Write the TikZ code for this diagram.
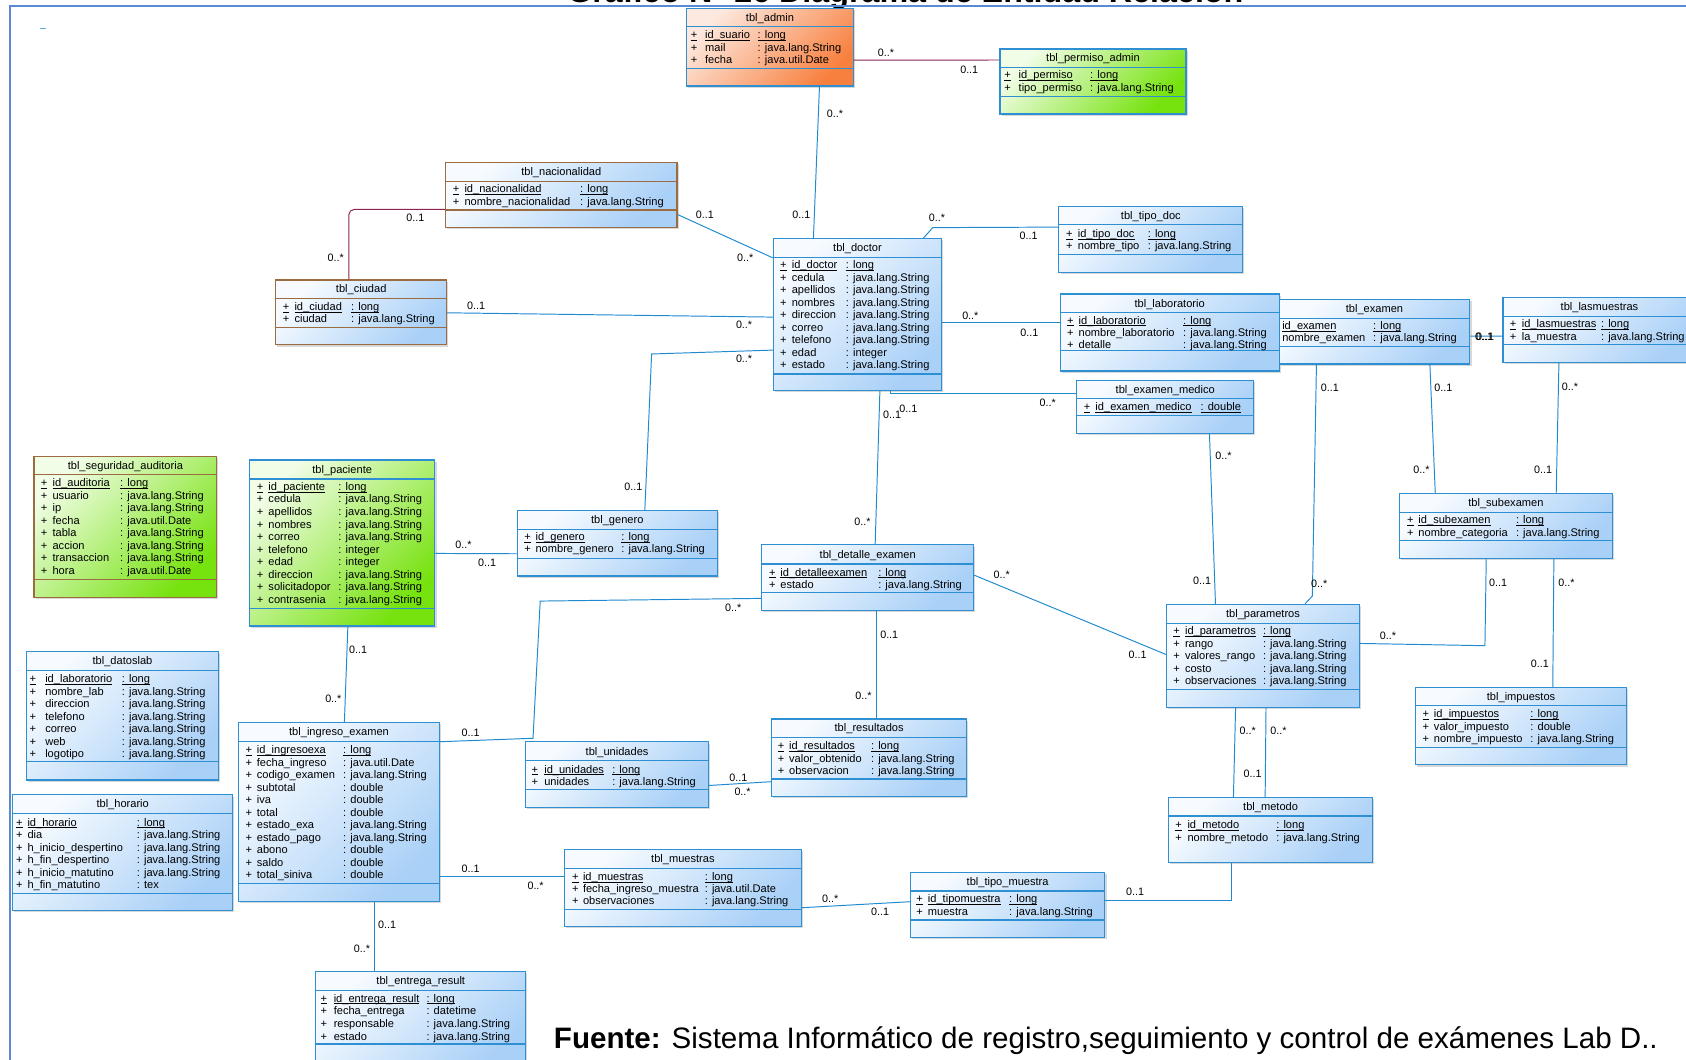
\documentclass[tikz,border=0pt]{standalone}
\usepackage{fontspec}
\setmainfont{Liberation Sans}
\usepackage{array}
\usetikzlibrary{positioning,fit,shadows}

\definecolor{tblblue}{HTML}{2E8FD3}
\definecolor{tblbrown}{HTML}{9C6B40}
\definecolor{linkblue}{HTML}{1F8AD0}
\definecolor{linkred}{HTML}{8E2352}
\definecolor{framec}{HTML}{5A8AD2}
\definecolor{bluelo}{HTML}{F7FBFF}
\definecolor{bluehi}{HTML}{A9D0F7}
\definecolor{greenlo}{HTML}{F1FDE6}
\definecolor{greenhi}{HTML}{76E20E}
\definecolor{orangelo}{HTML}{FDE9DF}
\definecolor{orangehi}{HTML}{F8803F}

\newcommand{\ul}[1]{\underline{\smash{#1}}}

\begin{document}
\begin{tikzpicture}[x=1pt,y=-1pt,
  tbl/.style={draw=tblblue,line width=1pt,inner sep=0pt,
    drop shadow={shadow xshift=1.5pt,shadow yshift=-1.5pt,fill=gray!60,opacity=.5}},
  bluebox/.style={tbl,top color=bluelo,bottom color=bluehi,shading angle=45},
  greenbox/.style={tbl,top color=greenlo,bottom color=greenhi,shading angle=45},
  orangebox/.style={tbl,top color=orangelo,bottom color=orangehi,shading angle=45},
  sep/.style={draw=tblblue,line width=1pt},
  ttl/.style={anchor=base,inner sep=0pt,font=\fontsize{10.3}{12}\selectfont},
  attrs/.style={anchor=base west,inner sep=0pt,font=\fontsize{10.3}{11.65}\selectfont},
  mult/.style={inner sep=0pt,font=\fontsize{10}{12}\selectfont},
  link/.style={draw=linkblue,line width=0.9pt},
  linkr/.style={draw=linkred,line width=0.9pt}]
  \useasboundingbox[fill=white] (0,0) rectangle (1568,985);

  \node[anchor=base,inner sep=0pt,font=\bfseries\fontsize{30}{36}\selectfont] (title) at (842,2) {Gráfico N° 26 Diagrama de Entidad Relación};
  \draw[framec,line width=1.6pt] (9.3,990) -- (9.3,5.3) -- (1575,5.3);
  \draw[linkblue!70,line width=1.2pt] (37.5,26.7) -- (43.2,26.7);

  % tablas
  \node[orangebox,fit={(638.4,7.8) (793.8,80)}] (admin) {};
  \draw[sep] (638.4,24.8) -- (793.8,24.8) (638.4,63.5) -- (793.8,63.5);
  \node[ttl] (admin-t) at (716.1,19.8) {tbl\_admin};
  \node[attrs] (admin-a) at (642.3,36) {\begin{tabular}[t]{@{}w{l}{13.3pt}@{}w{l}{48.9pt}@{}l@{}}
    \ul{+} & \ul{id\_suario} & \ul{: long}\\
    + & mail & : java.lang.String\\
    + & fecha & : java.util.Date
  \end{tabular}};

  \node[greenbox,fit={(930,45.6) (1103,106)}] (permiso) {};
  \draw[sep] (930,62.6) -- (1103,62.6) (930,90) -- (1103,90);
  \node[ttl] (permiso-t) at (1016.5,57.6) {tbl\_permiso\_admin};
  \node[attrs] (permiso-a) at (933.9,73.3) {\begin{tabular}[t]{@{}w{l}{13.3pt}@{}w{l}{66.5pt}@{}l@{}}
    \ul{+} & \ul{id\_permiso} & \ul{: long}\\
    + & tipo\_permiso & : java.lang.String
  \end{tabular}};

  \node[bluebox,draw=tblbrown,fit={(414.5,151) (629.6,211.4)}] (nac) {};
  \draw[sep,draw=tblbrown] (414.5,169) -- (629.6,169) (414.5,195.3) -- (629.6,195.3);
  \node[ttl] (nac-t) at (522,163.5) {tbl\_nacionalidad};
  \node[attrs] (nac-a) at (421,179.3) {\begin{tabular}[t]{@{}w{l}{10.8pt}@{}w{l}{107.6pt}@{}l@{}}
    \ul{+} & \ul{id\_nacionalidad} & \ul{: long}\\
    + & nombre\_nacionalidad & : java.lang.String
  \end{tabular}};

  \node[bluebox,draw=tblbrown,fit={(256.4,260.4) (415.4,320.8)}] (ciudad) {};
  \draw[sep,draw=tblbrown] (256.4,277.4) -- (415.4,277.4) (256.4,304.7) -- (415.4,304.7);
  \node[ttl] (ciudad-t) at (335.9,272.4) {tbl\_ciudad};
  \node[attrs] (ciudad-a) at (262.9,288.7) {\begin{tabular}[t]{@{}w{l}{10.8pt}@{}w{l}{52.7pt}@{}l@{}}
    \ul{+} & \ul{id\_ciudad} & \ul{: long}\\
    + & ciudad & : java.lang.String
  \end{tabular}};

  \node[bluebox,fit={(719.2,222) (875.7,363.3)}] (doctor) {};
  \draw[sep] (719.2,239.3) -- (875.7,239.3) (719.2,347.8) -- (875.7,347.8);
  \node[ttl] (doctor-t) at (797.5,234.2) {tbl\_doctor};
  \node[attrs] (doctor-a) at (725.4,249.9) {\begin{tabular}[t]{@{}w{l}{10.8pt}@{}w{l}{50.3pt}@{}l@{}}
    \ul{+} & \ul{id\_doctor} & \ul{: long}\\
    + & cedula & : java.lang.String\\
    + & apellidos & : java.lang.String\\
    + & nombres & : java.lang.String\\
    + & direccion & : java.lang.String\\
    + & correo & : java.lang.String\\
    + & telefono & : java.lang.String\\
    + & edad & : integer\\
    + & estado & : java.lang.String
  \end{tabular}};

  \node[bluebox,fit={(984.8,192.2) (1155.7,253)}] (tipodoc) {};
  \draw[sep] (984.8,209.2) -- (1155.7,209.2) (984.8,236.5) -- (1155.7,236.5);
  \node[ttl] (tipodoc-t) at (1070.3,204.2) {tbl\_tipo\_doc};
  \node[attrs] (tipodoc-a) at (991.3,220.8) {\begin{tabular}[t]{@{}w{l}{10.9pt}@{}w{l}{65.1pt}@{}l@{}}
    \ul{+} & \ul{id\_tipo\_doc} & \ul{: long}\\
    + & nombre\_tipo & : java.lang.String
  \end{tabular}};

  \node[bluebox,fit={(985.9,273.4) (1189.6,345)}] (lab) {};
  \draw[sep] (985.9,290.8) -- (1189.6,290.8) (985.9,326.1) -- (1189.6,326.1);
  \node[ttl] (lab-t) at (1087.8,285.6) {tbl\_laboratorio};
  \node[attrs,font=\fontsize{10.3}{11.45}\selectfont] (lab-a) at (992.3,301.4) {\begin{tabular}[t]{@{}w{l}{10.6pt}@{}w{l}{97.3pt}@{}l@{}}
    \ul{+} & \ul{id\_laboratorio} & \ul{: long}\\
    + & nombre\_laboratorio & : java.lang.String\\
    + & detalle & : java.lang.String
  \end{tabular}};

  \node[bluebox,fit={(1189.6,278.4) (1367,338.5)}] (examen) {};
  \draw[sep] (1189.6,296) -- (1367,296) (1189.6,322.4) -- (1367,322.4);
  \node[ttl] (examen-t) at (1278.3,290.7) {tbl\_examen};
  \node[attrs] (examen-a) at (1192.3,306.4) {\begin{tabular}[t]{@{}w{l}{84.6pt}@{}l@{}}
    \ul{id\_examen} & \ul{: long}\\
    nombre\_examen & : java.lang.String
  \end{tabular}};

  \node[bluebox,fit={(1397.8,276.5) (1577,337.3)}] (lasm) {};
  \draw[sep] (1397.8,294.5) -- (1577,294.5) (1397.8,320.8) -- (1577,320.8);
  \node[ttl] (lasm-t) at (1487.5,289) {tbl\_lasmuestras};
  \node[attrs] (lasm-a) at (1403.9,304.8) {\begin{tabular}[t]{@{}w{l}{11.3pt}@{}w{l}{73.6pt}@{}l@{}}
    \ul{+} & \ul{id\_lasmuestras} & \ul{: long}\\
    + & la\_muestra & : java.lang.String
  \end{tabular}};

  \node[bluebox,fit={(1001.4,354) (1166,403)}] (exmed) {};
  \draw[sep] (1001.4,371) -- (1166,371) (1001.4,386.6) -- (1166,386.6);
  \node[ttl] (exmed-t) at (1083.7,366) {tbl\_examen\_medico};
  \node[attrs] (exmed-a) at (1007.7,381.7) {\begin{tabular}[t]{@{}w{l}{10.9pt}@{}w{l}{97.8pt}@{}l@{}}
    \ul{+} & \ul{id\_examen\_medico} & \ul{: double}
  \end{tabular}};

  \node[greenbox,draw=tblbrown,fit={(31.6,424.7) (201.5,555.5)}] (seg) {};
  \draw[sep,draw=tblbrown] (31.6,441.7) -- (201.5,441.7) (31.6,538.7) -- (201.5,538.7);
  \node[ttl] (seg-t) at (116.6,436.7) {tbl\_seguridad\_auditoria};
  \node[attrs] (seg-a) at (37.8,452.7) {\begin{tabular}[t]{@{}w{l}{10.9pt}@{}w{l}{62.9pt}@{}l@{}}
    \ul{+} & \ul{id\_auditoria} & \ul{: long}\\
    + & usuario & : java.lang.String\\
    + & ip & : java.lang.String\\
    + & fecha & : java.util.Date\\
    + & tabla & : java.lang.String\\
    + & accion & : java.lang.String\\
    + & transaccion & : java.lang.String\\
    + & hora & : java.util.Date
  \end{tabular}};

  \node[greenbox,fit={(231.9,427.8) (404.5,582.2)}] (paciente) {};
  \draw[sep] (231.9,445.5) -- (404.5,445.5) (231.9,565.7) -- (404.5,565.7);
  \node[ttl] (paciente-t) at (318.2,440.2) {tbl\_paciente};
  \node[attrs] (paciente-a) at (238.7,456.1) {\begin{tabular}[t]{@{}w{l}{10.8pt}@{}w{l}{65.1pt}@{}l@{}}
    \ul{+} & \ul{id\_paciente} & \ul{: long}\\
    + & cedula & : java.lang.String\\
    + & apellidos & : java.lang.String\\
    + & nombres & : java.lang.String\\
    + & correo & : java.lang.String\\
    + & telefono & : integer\\
    + & edad & : integer\\
    + & direccion & : java.lang.String\\
    + & solicitadopor & : java.lang.String\\
    + & contrasenia & : java.lang.String
  \end{tabular}};

  \node[bluebox,fit={(481.2,475) (667,535.7)}] (genero) {};
  \draw[sep] (481.2,492.3) -- (667,492.3) (481.2,519.2) -- (667,519.2);
  \node[ttl] (genero-t) at (574.1,487.2) {tbl\_genero};
  \node[attrs] (genero-a) at (487.5,502.6) {\begin{tabular}[t]{@{}w{l}{10.4pt}@{}w{l}{79.8pt}@{}l@{}}
    \ul{+} & \ul{id\_genero} & \ul{: long}\\
    + & nombre\_genero & : java.lang.String
  \end{tabular}};

  \node[bluebox,fit={(708.4,506.8) (905.5,567.9)}] (detalle) {};
  \draw[sep] (708.4,524.5) -- (905.5,524.5) (708.4,551.2) -- (905.5,551.2);
  \node[ttl] (detalle-t) at (807,519.2) {tbl\_detalle\_examen};
  \node[attrs] (detalle-a) at (715.2,535.8) {\begin{tabular}[t]{@{}w{l}{10.4pt}@{}w{l}{91pt}@{}l@{}}
    \ul{+} & \ul{id\_detalleexamen} & \ul{: long}\\
    + & estado & : java.lang.String
  \end{tabular}};

  \node[bluebox,fit={(1301.6,458.8) (1499.3,519.6)}] (subex) {};
  \draw[sep] (1301.6,476.5) -- (1499.3,476.5) (1301.6,502.8) -- (1499.3,502.8);
  \node[ttl] (subex-t) at (1400.5,471.2) {tbl\_subexamen};
  \node[attrs] (subex-a) at (1308.5,487.1) {\begin{tabular}[t]{@{}w{l}{10.5pt}@{}w{l}{90.7pt}@{}l@{}}
    \ul{+} & \ul{id\_subexamen} & \ul{: long}\\
    + & nombre\_categoria & : java.lang.String
  \end{tabular}};

  \node[bluebox,fit={(1084.7,562) (1264.4,657.8)}] (param) {};
  \draw[sep] (1084.7,579.7) -- (1264.4,579.7) (1084.7,641) -- (1264.4,641);
  \node[ttl] (param-t) at (1174.6,574.4) {tbl\_parametros};
  \node[attrs] (param-a) at (1091,590.3) {\begin{tabular}[t]{@{}w{l}{10.9pt}@{}w{l}{72.5pt}@{}l@{}}
    \ul{+} & \ul{id\_parametros} & \ul{: long}\\
    + & rango & : java.lang.String\\
    + & valores\_rango & : java.lang.String\\
    + & costo & : java.lang.String\\
    + & observaciones & : java.lang.String
  \end{tabular}};

  \node[bluebox,fit={(1316.2,639.2) (1513,711.4)}] (impuestos) {};
  \draw[sep] (1316.2,656.3) -- (1513,656.3) (1316.2,695) -- (1513,695);
  \node[ttl] (impuestos-t) at (1414.6,651.3) {tbl\_impuestos};
  \node[attrs] (impuestos-a) at (1322.9,667.5) {\begin{tabular}[t]{@{}w{l}{10.5pt}@{}w{l}{89.7pt}@{}l@{}}
    \ul{+} & \ul{id\_impuestos} & \ul{: long}\\
    + & valor\_impuesto & : double\\
    + & nombre\_impuesto & : java.lang.String
  \end{tabular}};

  \node[bluebox,fit={(24.8,606) (203,725.4)}] (datoslab) {};
  \draw[sep] (24.8,623.7) -- (203,623.7) (24.8,708.3) -- (203,708.3);
  \node[ttl] (datoslab-t) at (113.9,618.4) {tbl\_datoslab};
  \node[attrs] (datoslab-a) at (27.3,635) {\begin{tabular}[t]{@{}w{l}{14.6pt}@{}w{l}{71.3pt}@{}l@{}}
    \ul{+} & \ul{id\_laboratorio} & \ul{: long}\\
    + & nombre\_lab & : java.lang.String\\
    + & direccion & : java.lang.String\\
    + & telefono & : java.lang.String\\
    + & correo & : java.lang.String\\
    + & web & : java.lang.String\\
    + & logotipo & : java.lang.String
  \end{tabular}};

  \node[bluebox,fit={(11.8,739.3) (216.4,846.9)}] (horario) {};
  \draw[sep] (11.8,756.4) -- (216.4,756.4) (11.8,830.8) -- (216.4,830.8);
  \node[ttl] (horario-t) at (114.1,751.4) {tbl\_horario};
  \node[attrs] (horario-a) at (14.9,768.3) {\begin{tabular}[t]{@{}w{l}{10.5pt}@{}w{l}{101.7pt}@{}l@{}}
    \ul{+} & \ul{id\_horario} & \ul{: long}\\
    + & dia & : java.lang.String\\
    + & h\_inicio\_despertino & : java.lang.String\\
    + & h\_fin\_despertino & : java.lang.String\\
    + & h\_inicio\_matutino & : java.lang.String\\
    + & h\_fin\_matutino & : tex
  \end{tabular}};

  \node[bluebox,fit={(222,672) (408.6,838)}] (ingreso) {};
  \draw[sep] (222,689.7) -- (408.6,689.7) (222,821.5) -- (408.6,821.5);
  \node[ttl] (ingreso-t) at (315.3,684.4) {tbl\_ingreso\_examen};
  \node[attrs,font=\fontsize{10.3}{11.6}\selectfont] (ingreso-a) at (228.3,701) {\begin{tabular}[t]{@{}w{l}{10.4pt}@{}w{l}{80.3pt}@{}l@{}}
    \ul{+} & \ul{id\_ingresoexa} & \ul{: long}\\
    + & fecha\_ingreso & : java.util.Date\\
    + & codigo\_examen & : java.lang.String\\
    + & subtotal & : double\\
    + & iva & : double\\
    + & total & : double\\
    + & estado\_exa & : java.lang.String\\
    + & estado\_pago & : java.lang.String\\
    + & abono & : double\\
    + & saldo & : double\\
    + & total\_siniva & : double
  \end{tabular}};

  \node[bluebox,fit={(488.9,690) (658.8,750.8)}] (unidades) {};
  \draw[sep] (488.9,707.4) -- (658.8,707.4) (488.9,734) -- (658.8,734);
  \node[ttl] (unidades-t) at (573.9,702.2) {tbl\_unidades};
  \node[attrs] (unidades-a) at (494.3,719) {\begin{tabular}[t]{@{}w{l}{11.7pt}@{}w{l}{63.2pt}@{}l@{}}
    \ul{+} & \ul{id\_unidades} & \ul{: long}\\
    + & unidades & : java.lang.String
  \end{tabular}};

  \node[bluebox,fit={(717.4,668.7) (899.1,740.9)}] (result) {};
  \draw[sep] (717.4,685.7) -- (899.1,685.7) (717.4,724.5) -- (899.1,724.5);
  \node[ttl] (result-t) at (808.3,680.7) {tbl\_resultados};
  \node[attrs] (result-a) at (723.3,697.3) {\begin{tabular}[t]{@{}w{l}{10.4pt}@{}w{l}{76.2pt}@{}l@{}}
    \ul{+} & \ul{id\_resultados} & \ul{: long}\\
    + & valor\_obtenido & : java.lang.String\\
    + & observacion & : java.lang.String
  \end{tabular}};

  \node[bluebox,fit={(1086.8,741.8) (1276.6,802.3)}] (metodo) {};
  \draw[sep] (1086.8,758.9) -- (1276.6,758.9);
  \node[ttl] (metodo-t) at (1181.7,753.9) {tbl\_metodo};
  \node[attrs] (metodo-a) at (1092.9,770.7) {\begin{tabular}[t]{@{}w{l}{11.3pt}@{}w{l}{82.6pt}@{}l@{}}
    \ul{+} & \ul{id\_metodo} & \ul{: long}\\
    + & nombre\_metodo & : java.lang.String
  \end{tabular}};

  \node[bluebox,fit={(846.6,811.2) (1027.6,871.7)}] (tmuestra) {};
  \draw[sep] (846.6,828.6) -- (1027.6,828.6) (846.6,855.6) -- (1027.6,855.6);
  \node[ttl] (tmuestra-t) at (937.1,823.4) {tbl\_tipo\_muestra};
  \node[attrs] (tmuestra-a) at (852.1,839.5) {\begin{tabular}[t]{@{}w{l}{10.7pt}@{}w{l}{75.6pt}@{}l@{}}
    \ul{+} & \ul{id\_tipomuestra} & \ul{: long}\\
    + & muestra & : java.lang.String
  \end{tabular}};

  \node[bluebox,fit={(525.2,789.9) (745,861.8)}] (muestras) {};
  \draw[sep] (525.2,807.5) -- (745,807.5) (525.2,845.7) -- (745,845.7);
  \node[ttl] (muestras-t) at (635.1,802.2) {tbl\_muestras};
  \node[attrs,font=\fontsize{10.3}{11.2}\selectfont] (muestras-a) at (531.8,818.8) {\begin{tabular}[t]{@{}w{l}{10.2pt}@{}w{l}{113.3pt}@{}l@{}}
    \ul{+} & \ul{id\_muestras} & \ul{: long}\\
    + & fecha\_ingreso\_muestra & : java.util.Date\\
    + & observaciones & : java.lang.String
  \end{tabular}};

  \node[bluebox,fit={(293.8,903.6) (488.7,995)}] (entrega) {};
  \draw[sep] (293.8,921.3) -- (488.7,921.3) (293.8,970.9) -- (488.7,970.9);
  \node[ttl] (entrega-t) at (391.3,916) {tbl\_entrega\_result};
  \node[attrs,font=\fontsize{10.3}{11.9}\selectfont] (entrega-a) at (297.9,931.9) {\begin{tabular}[t]{@{}w{l}{12.3pt}@{}w{l}{86.3pt}@{}l@{}}
    \ul{+} & \ul{id\_entrega\_result} & \ul{: long}\\
    + & fecha\_entrega & : datetime\\
    + & responsable & : java.lang.String\\
    + & estado & : java.lang.String
  \end{tabular}};

  % relaciones
  \draw[linkr] ([yshift=-48.7pt]admin.north east) -- ([yshift=-10.7pt]permiso.north west);
  \node[mult] (m1) at (824,49) {0..*};
  \node[mult] (m2) at (901.4,65.1) {0..1};

  \draw[link] ([xshift=124.2pt]admin.south west) -- ([xshift=37.8pt]doctor.north west);
  \node[mult] (m3) at (776.6,105.4) {0..*};
  \node[mult] (m4) at (745.2,200) {0..1};

  \draw[linkr,rounded corners=5pt] ([yshift=-44.3pt]nac.north west) -| ([xshift=68.5pt]ciudad.north west);
  \node[mult] (m5) at (386.3,202.4) {0..1};
  \node[mult] (m6) at (312.3,239.3) {0..*};

  \draw[link] ([yshift=-49pt]nac.north east) -- ([yshift=-18.3pt]doctor.north west);
  \node[mult] (m7) at (655.6,199.3) {0..1};
  \node[mult] (m8) at (693,240) {0..*};

  \draw[link] ([yshift=-31pt]ciudad.north east) -- ([yshift=-73.4pt]doctor.north west);
  \node[mult] (m9) at (442.8,284) {0..1};
  \node[mult] (m10) at (692,302) {0..*};

  \draw[link] ([yshift=-104.1pt]doctor.north west) -- (606,329.2) -- ([xshift=119pt]genero.north west);
  \node[mult] (m11) at (589,452.6) {0..1};
  \node[mult] (m12) at (692,334) {0..*};

  \draw[link] ([xshift=140.1pt]doctor.north west) -- (867.4,211.7) -- ([yshift=-19.5pt]tipodoc.north west);
  \node[mult] (m13) at (871.4,202.1) {0..*};
  \node[mult] (m14) at (956.6,219.2) {0..1};

  \draw[link] ([yshift=-78pt]doctor.north east) -- ([yshift=-26.6pt]lab.north west);
  \node[mult] (m15) at (902.4,293.9) {0..*};
  \node[mult] (m16) at (957.3,309.1) {0..1};

  \draw[link] ([yshift=-34.7pt]examen.north east) -- ([yshift=-36.6pt]lasm.north west);
  \node[mult] (m17) at (1380.3,313.1) {0..1};
  \node[mult] (m18) at (1381.1,313.4) {0..1};

  \draw[link] ([xshift=109.8pt]doctor.south west) |- ([yshift=-12.7pt]exmed.north west);
  \node[mult] (m19) at (974.4,374.5) {0..*};

  \draw[link] ([xshift=99.6pt]doctor.south west) -- ([xshift=106pt]detalle.north west);
  \node[mult] (m20) at (829.7,385.3) {0..1};
  \node[mult] (m21) at (844.8,380.4) {0..1};
  \node[mult] (m22) at (802,485.1) {0..*};

  \draw[link] ([yshift=-50.2pt]detalle.north west) -- (502.4,559) -- (495.7,686.6) -- ([yshift=-18.3pt]ingreso.north east);
  \node[mult] (m23) at (681.8,565.1) {0..*};
  \node[mult] (m24) at (437.7,681.4) {0..1};

  \draw[link] ([yshift=-28.6pt]detalle.north east) -- ([yshift=-47.1pt]param.north west);
  \node[mult] (m25) at (931.6,534.1) {0..*};
  \node[mult] (m26) at (1058,609) {0..1};

  \draw[link] ([xshift=107.6pt]detalle.south west) -- ([xshift=98.6pt]result.north west);
  \node[mult] (m27) at (827,590) {0..1};
  \node[mult] (m28) at (803,647) {0..*};

  \draw[link] ([xshift=123.9pt]exmed.south west) -- ([xshift=46.2pt]param.north west);
  \node[mult] (m29) at (1137.8,423.8) {0..*};
  \node[mult] (m30) at (1118,540) {0..1};

  \draw[link] ([xshift=35.2pt]examen.south west) -- (1220.5,554.3) -- ([xshift=129.5pt]param.north west);
  \node[mult] (m31) at (1236.8,361.1) {0..1};
  \node[mult] (m32) at (1226.9,542.5) {0..*};

  \draw[link] ([xshift=140.7pt]examen.south west) -- ([xshift=33.7pt]subex.north west);
  \node[mult] (m33) at (1342.4,361.1) {0..1};
  \node[mult] (m34) at (1322,437) {0..*};

  \draw[link] ([xshift=52.5pt]lasm.south west) -- ([xshift=146.2pt]subex.north west);
  \node[mult] (m35) at (1460,359.6) {0..*};
  \node[mult] (m36) at (1435,437) {0..1};

  \draw[link] ([xshift=81.1pt]subex.south west) -- (1381,600.5) -- ([yshift=-36.9pt]param.north east);
  \node[mult] (m37) at (1393.2,541.9) {0..1};
  \node[mult] (m38) at (1290.8,591.2) {0..*};

  \draw[link] ([xshift=144pt]subex.south west) -- ([xshift=128.4pt]impuestos.north west);
  \node[mult] (m39) at (1456.9,541.9) {0..*};
  \node[mult] (m40) at (1432,616.9) {0..1};

  \draw[link] ([xshift=64.9pt]param.south west) -- ([xshift=60.8pt]metodo.north west);
  \draw[link] ([xshift=93.2pt]param.south west) -- ([xshift=90.3pt]metodo.north west);
  \node[mult] (m41) at (1160.4,679.5) {0..*};
  \node[mult] (m42) at (1189,679.5) {0..*};
  \node[mult] (m43) at (1165,720) {0..1};

  \draw[link] ([xshift=59.2pt]metodo.south west) |- ([yshift=-26.8pt]tmuestra.north east);
  \node[mult] (m44) at (1055.7,829) {0..1};

  \draw[link] ([yshift=-54.8pt]muestras.north east) -- ([yshift=-27.9pt]tmuestra.north west);
  \node[mult] (m45) at (772.1,836) {0..*};
  \node[mult] (m46) at (818.5,848.4) {0..1};

  \draw[link] ([yshift=-143.6pt]ingreso.north east) -- ([yshift=-25.7pt]muestras.north west);
  \node[mult] (m47) at (437.7,808.2) {0..1};
  \node[mult] (m48) at (498.1,823.7) {0..*};

  \draw[link] ([xshift=127pt]ingreso.south west) -- ([xshift=55.2pt]entrega.north west);
  \node[mult] (m49) at (360,860) {0..1};
  \node[mult] (m50) at (336.6,882) {0..*};

  \draw[link] ([yshift=-41pt]unidades.north east) -- ([yshift=-58.8pt]result.north west);
  \node[mult] (m51) at (686.6,722.9) {0..1};
  \node[mult] (m52) at (690.6,736.2) {0..*};

  \draw[link] ([xshift=92.1pt]paciente.south west) -- ([xshift=98.8pt]ingreso.north west);
  \node[mult] (m53) at (333,604) {0..1};
  \node[mult] (m54) at (310,650) {0..*};

  \draw[link] ([yshift=-87.4pt]paciente.north east) -- ([yshift=-40.5pt]genero.north west);
  \node[mult] (m55) at (431,507) {0..*};
  \node[mult] (m56) at (453,523) {0..1};

  \node[anchor=base west,inner sep=0pt,font=\fontsize{27.5}{33}\selectfont] (fuente) at (515,975) {\textbf{Fuente:} Sistema Informático de registro,seguimiento y control de exámenes Lab D..};
\end{tikzpicture}
\end{document}
